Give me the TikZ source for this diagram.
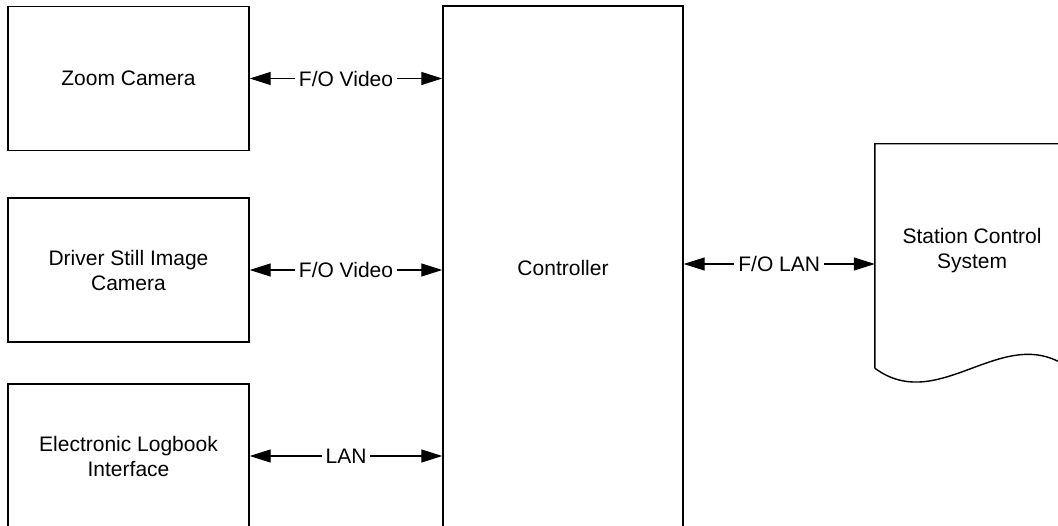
\documentclass[tikz,border=0pt]{standalone}
\usepackage{fontspec}
\setmainfont{Liberation Sans}
\usetikzlibrary{arrows.meta,calc}
\tikzset{
  unit/.style={draw, line width=1.4pt, minimum width=241pt, minimum height=144pt, align=center, inner sep=0pt},
  link/.style={{Triangle[length=21pt,width=13pt]}-{Triangle[length=21pt,width=13pt]}, line width=1.2pt},
  tag/.style={fill=white, inner xsep=4pt, inner ysep=1pt}
}

\begin{document}
\begin{tikzpicture}[x=1pt, y=-1pt, font=\fontsize{21}{25}\selectfont]
  \path[use as bounding box, clip] (0,0) rectangle (1058,526);
  % boxes
  \node[unit] (zoom)   at (128.5,78.5) {Zoom Camera};
  \node[unit] (driver) at (128.5,270)  {Driver Still Image\\Camera};
  \node[unit] (logbk)  at (128.5,456)  {Electronic Logbook\\Interface};
  \node[unit, minimum width=240pt, minimum height=524pt] (ctrl) at (563,268) {Controller};
  % document shape
  \node[minimum width=194pt, minimum height=224pt, inner sep=0pt] (scs) at (972,256) {};
  \node[align=center] (scsname) at (972,251) {Station Control\\System};
  \draw[line width=1.4pt] (scs.south west) -- (scs.north west) -- (scs.north east) -- (scs.south east)
    .. controls ($(scs.south east)+(-65,-48)$) and ($(scs.south west)+(65,48)$) .. (scs.south west);
  \coordinate (lanin) at ($(scs.west)+(0,8)$);
  % links
  \draw[link] (zoom.east) -- (zoom.east -| ctrl.west) node[midway, tag] {F/O Video};
  \draw[link] (driver.east) -- (driver.east -| ctrl.west) node[midway, tag] {F/O Video};
  \draw[link] (logbk.east) -- (logbk.east -| ctrl.west) node[midway, tag] {LAN};
  \draw[link] (ctrl.east |- lanin) -- (lanin) node[midway, tag] {F/O LAN};
\end{tikzpicture}
\end{document}
